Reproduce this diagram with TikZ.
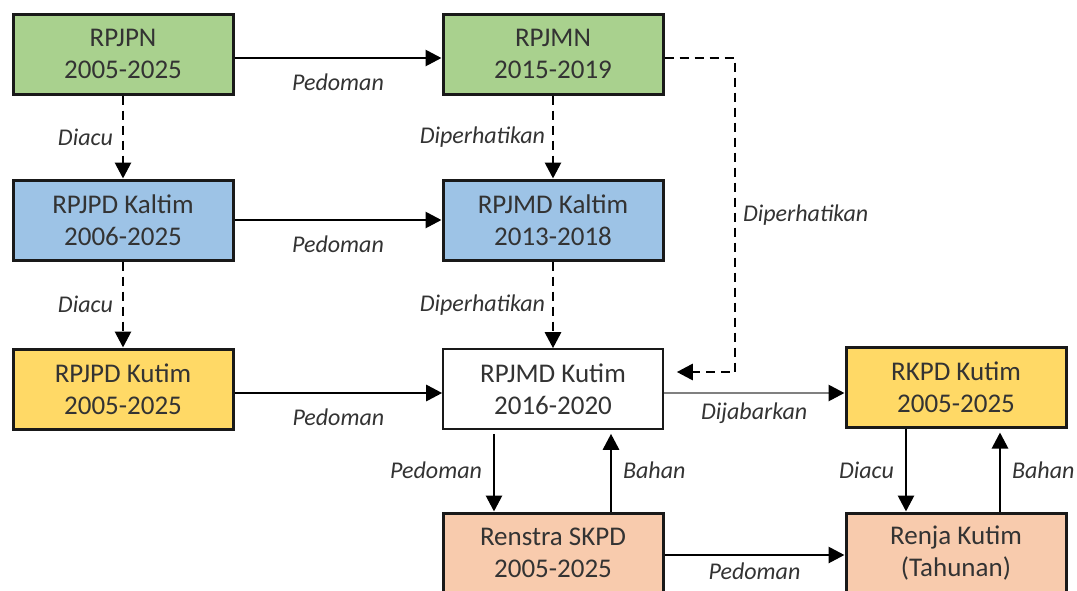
\documentclass[tikz,border=0pt]{standalone}
\usepackage{fontspec}
\setmainfont{Carlito}
\usetikzlibrary{arrows.meta}

\definecolor{nasional}{HTML}{A9D18E}
\definecolor{provinsi}{HTML}{9DC3E6}
\definecolor{kabupaten}{HTML}{FFD966}
\definecolor{skpd}{HTML}{F8CBAD}

\tikzset{
  box/.style={draw=black!90, line width=1.5pt, minimum width=110pt, minimum height=40pt,
    inner sep=0pt, align=center, font=\fontsize{13.5}{16}\selectfont, text=black!80},
  lbl/.style={font=\fontsize{12}{13}\selectfont\itshape, text=black!80},
  arr/.style={line width=1.4pt, -{Triangle[length=8pt,width=8pt]}},
  darr/.style={arr, dash pattern=on 4.5pt off 3pt},
}

\begin{document}
\begin{tikzpicture}[x=0.5pt, y=-0.5pt]
\useasboundingbox (0,0) rectangle (1077,590);
\clip (0,0) rectangle (1077,590);
% boxes
\node[box, fill=nasional] (rpjpn) at (123,54) {RPJPN\\2005-2025};
\node[box, fill=nasional] (rpjmn) at (553,54) {RPJMN\\2015-2019};
\node[box, fill=provinsi] (rpjpdkaltim) at (123,220) {RPJPD Kaltim\\2006-2025};
\node[box, fill=provinsi] (rpjmdkaltim) at (553,220) {RPJMD Kaltim\\2013-2018};
\node[box, fill=kabupaten] (rpjpdkutim) at (123,389) {RPJPD Kutim\\2005-2025};
\node[box, fill=white, line width=0.8pt] (rpjmdkutim) at (553,389) {RPJMD Kutim\\2016-2020};
\node[box, fill=kabupaten] (rkpd) at (956,387) {RKPD Kutim\\2005-2025};
\node[box, fill=skpd] (renstra) at (553,553) {Renstra SKPD\\2005-2025};
\node[box, fill=skpd] (renja) at (956,553) {Renja Kutim\\(Tahunan)};
% horizontal
\draw[arr] ([yshift=-2pt]rpjpn.east) -- ([yshift=-2pt]rpjmn.west)
  node[lbl, midway, below=4pt] {Pedoman};
\draw[arr] (rpjpdkaltim) -- (rpjmdkaltim)
  node[lbl, midway, below=4pt] {Pedoman};
\draw[arr] ([yshift=-2pt]rpjpdkutim.east) -- ([yshift=-2pt]rpjmdkutim.west)
  node[lbl, midway, below=4pt] {Pedoman};
\draw[arr, draw=black!50, -{Triangle[length=8pt,width=8pt,color=black]}]
  ([yshift=-2pt]rpjmdkutim.east) -- ([yshift=-2pt]rpjmdkutim.east -| rkpd.west)
  node[lbl, midway, below=1pt] {Dijabarkan};
\draw[arr] ([yshift=-1pt]renstra.east) -- ([yshift=-1pt]renja.west)
  node[lbl, midway, below] {Pedoman};
% vertical
\draw[darr] (rpjpn) -- (rpjpdkaltim) node[lbl, midway, left=1pt] {Diacu};
\draw[darr] (rpjpdkaltim) -- (rpjpdkutim) node[lbl, midway, left=1pt] {Diacu};
\draw[darr] (rpjmn) -- (rpjmdkaltim) node[lbl, midway, left] {Diperhatikan};
\draw[darr] (rpjmdkaltim) -- (rpjmdkutim) node[lbl, midway, left] {Diperhatikan};
\coordinate (belok) at (735,372);
\draw[darr] ([yshift=-2pt]rpjmn.east) -| (belok)
  node[lbl, pos=0.75, right] {Diperhatikan}
  -- ([shift={(6.5pt,8.5pt)}]rpjmdkutim.east);
\draw[arr, shorten <=2pt] ([xshift=-29.5pt]rpjmdkutim.south) -- ([xshift=-29.5pt]renstra.north)
  node[lbl, midway, left=2pt] {Pedoman};
\draw[arr, shorten >=2pt] ([xshift=29pt]renstra.north) -- ([xshift=29pt]rpjmdkutim.south)
  node[lbl, midway, right=2pt] {Bahan};
\draw[arr] ([xshift=-25pt]rkpd.south) -- ([xshift=-25pt]rkpd.south |- renja.north)
  node[lbl, midway, left=2pt] {Diacu};
\draw[arr, shorten >=2pt] ([xshift=22pt]renja.north) -- ([xshift=22pt]renja.north |- rkpd.south)
  node[lbl, midway, right=2pt] {Bahan};
\end{tikzpicture}
\end{document}
